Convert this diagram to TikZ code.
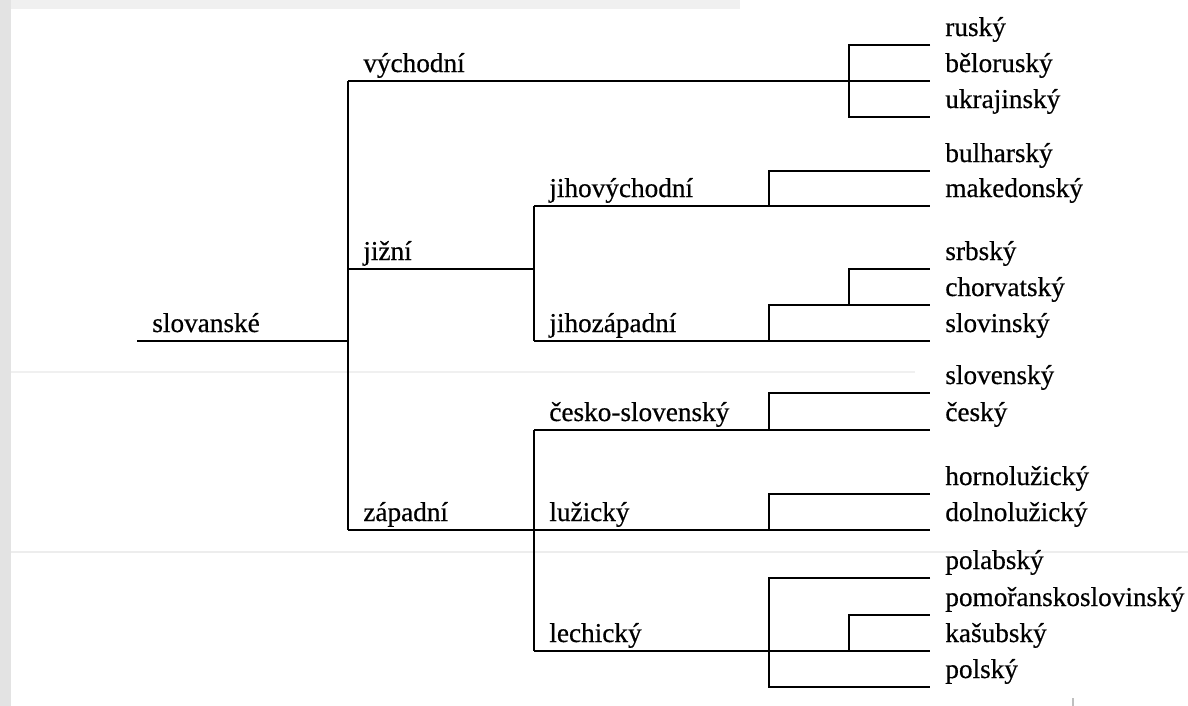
\documentclass[tikz,border=0pt]{standalone}
\usepackage{fontspec}
\setmainfont{Liberation Serif}[FakeBold=0.5]
\tikzset{
  vetev/.style={line width=1.15pt, line join=miter},
  lbl/.style={anchor=base west, inner sep=0pt, xshift=0.3cm, yshift=0.18cm,
    font=\fontsize{15.5}{18}\selectfont}
}

\begin{document}
\begin{tikzpicture}[x=0.02cm, y=-0.02cm]
		%%%%% PODKLAD %%%%%
		\useasboundingbox (0,0) rectangle (1188,706);
		\fill[white] (0,0) rectangle (1188,706);
		\fill[black!11] (0,0) rectangle (11,706);
		\fill[black!6] (11,0) rectangle (740,9);
		\draw[black!6, line width=0.6pt] (11,372) -- (915,372);
		\draw[black!7, line width=0.6pt] (11,552) -- (1188,552);
		\draw[black!25, line width=0.6pt] (1073,698) -- (1073,706);
		
		%%%%% VETVE %%%%%
		\coordinate (koren) at (137,341);
		\coordinate (slov) at (348,341);
		\coordinate (vych) at (348,81);
		\coordinate (jiz) at (348,269);
		\coordinate (zap) at (348,530);
		\coordinate (jizb) at (534,269);
		\coordinate (jv) at (534,206);
		\coordinate (jz) at (534,341);
		\coordinate (cs) at (534,430);
		\coordinate (luz) at (534,530);
		\coordinate (lech) at (534,651);
		
		\coordinate (v-vych) at (849,81);
		\coordinate (v-jv) at (769,206);
		\coordinate (v-jz) at (769,341);
		\coordinate (v-jz2) at (849,305);
		\coordinate (v-cs) at (769,430);
		\coordinate (v-luz) at (769,530);
		\coordinate (v-lech) at (769,651);
		\coordinate (v-lech2) at (849,651);
		
		\coordinate (rusky) at (930,45);
		\coordinate (belorusky) at (930,81);
		\coordinate (ukrajinsky) at (930,117);
		\coordinate (bulharsky) at (930,171);
		\coordinate (makedonsky) at (930,206);
		\coordinate (srbsky) at (930,269);
		\coordinate (chorvatsky) at (930,305);
		\coordinate (slovinsky) at (930,341);
		\coordinate (slovensky) at (930,393);
		\coordinate (cesky) at (930,430);
		\coordinate (hornoluzicky) at (930,494);
		\coordinate (dolnoluzicky) at (930,530);
		\coordinate (polabsky) at (930,578);
		\coordinate (pomoransky) at (930,615);
		\coordinate (kasubsky) at (930,651);
		\coordinate (polsky) at (930,687);
		
		\draw[vetev] (koren) -- (slov);
		\draw[vetev] (vych) -- (zap);
		\draw[vetev] (jiz) -- (jizb);
		\draw[vetev] (zap) -- (luz);
		\draw[vetev] (jv) -- (jz);
		\draw[vetev] (cs) -- (lech);
		
		% vychodni
		\draw[vetev] (vych) -- (belorusky);
		\draw[vetev] (rusky) -| (v-vych) |- (ukrajinsky);
		
		% jizni
		\draw[vetev] (jv) -- (makedonsky);
		\draw[vetev] (v-jv) |- (bulharsky);
		\draw[vetev] (jz) -- (slovinsky);
		\draw[vetev] (v-jz) |- (chorvatsky);
		\draw[vetev] (v-jz2) |- (srbsky);
		
		% zapadni
		\draw[vetev] (cs) -- (cesky);
		\draw[vetev] (v-cs) |- (slovensky);
		\draw[vetev] (luz) -- (dolnoluzicky);
		\draw[vetev] (v-luz) |- (hornoluzicky);
		\draw[vetev] (lech) -- (kasubsky);
		\draw[vetev] (polabsky) -| (v-lech) |- (polsky);
		\draw[vetev] (v-lech2) |- (pomoransky);
		
		%%%%% POPISKY %%%%%
		\node[lbl] (t-slov) at (koren) {slovanské};
		\node[lbl] (t-vych) at (vych) {východní};
		\node[lbl] (t-jiz) at (jiz) {jižní};
		\node[lbl] (t-zap) at (zap) {západní};
		\node[lbl] (t-jv) at (jv) {jihovýchodní};
		\node[lbl] (t-jz) at (jz) {jihozápadní};
		\node[lbl] (t-cs) at (cs) {česko-slovenský};
		\node[lbl] (t-luz) at (luz) {lužický};
		\node[lbl] (t-lech) at (lech) {lechický};
		
		\foreach \n/\t in {rusky/ruský, belorusky/běloruský, ukrajinsky/ukrajinský,
			bulharsky/bulharský, makedonsky/makedonský, srbsky/srbský,
			chorvatsky/chorvatský, slovinsky/slovinský, slovensky/slovenský,
			cesky/český, hornoluzicky/hornolužický, dolnoluzicky/dolnolužický,
			polabsky/polabský, pomoransky/pomořanskoslovinský,
			kasubsky/kašubský, polsky/polský}
			\node[lbl] (t-\n) at (\n) {\t};
	\end{tikzpicture}
\end{document}
